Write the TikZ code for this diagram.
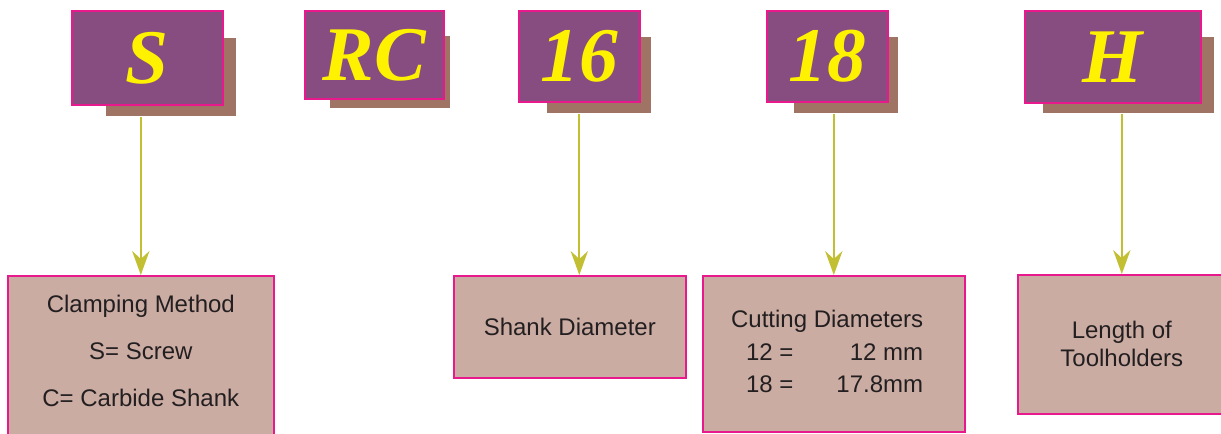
\documentclass[tikz,border=0pt]{standalone}
\usepackage{fontspec}
\setmainfont{Liberation Sans}
\newfontfamily\codefont{Liberation Serif}
\usetikzlibrary{arrows.meta,positioning}

\definecolor{plum}{HTML}{874C80}
\definecolor{edgepink}{HTML}{E8198C}
\definecolor{backbrown}{HTML}{A07464}
\definecolor{codeyellow}{HTML}{FFF200}
\definecolor{infotan}{HTML}{CBACA3}
\definecolor{textdark}{HTML}{231F20}
\definecolor{linkolive}{HTML}{C2BF32}

\begin{document}
\begin{tikzpicture}[
  x=0.75pt, y=-0.75pt,
  codebox/.style={draw=edgepink, line width=1.2pt, fill=plum, text=codeyellow, inner sep=0pt, anchor=north west,
    font=\codefont\bfseries\itshape\fontsize{58}{60}\selectfont},
  backbox/.style={fill=backbrown, inner sep=0pt, anchor=north west},
  infobox/.style={draw=edgepink, line width=1.2pt, fill=infotan, text=textdark, inner sep=0pt, anchor=north west,
    align=center, font=\fontsize{18}{21}\selectfont},
  link/.style={draw=linkolive, line width=1.3pt, -{Stealth[length=18pt,width=13pt,inset=6pt]}},
]
\useasboundingbox (0,0) rectangle (1221,433);

% shadows behind the code letters
\node[backbox, minimum width=97.5pt, minimum height=58.5pt] (bS) at (106,38) {};
\node[backbox, minimum width=90pt, minimum height=54pt] (bRC) at (330,36) {};
\node[backbox, minimum width=78pt, minimum height=57pt] (b16) at (547,37) {};
\node[backbox, minimum width=78pt, minimum height=57pt] (b18) at (794,37) {};
\node[backbox, minimum width=128.25pt, minimum height=57pt] (bH) at (1043,37) {};

% code letters
\node[codebox, minimum width=113.25pt, minimum height=70.5pt] (kS) at (71,10) {S};
\node[codebox, minimum width=104.25pt, minimum height=66pt] (kRC) at (304,10) {RC};
\node[codebox, minimum width=90.75pt, minimum height=68.25pt] (k16) at (518,10) {16};
\node[codebox, minimum width=90.75pt, minimum height=68.25pt] (k18) at (766,10) {18};
\node[codebox, minimum width=132pt, minimum height=69pt] (kH) at (1024,10) {H};

% meaning of each part
\node[infobox, minimum width=199.5pt, inner ysep=14.25pt, text depth=10.5pt,
  font=\fontsize{18}{35.25}\selectfont] (iS) at (7,275)
  {Clamping Method\\S= Screw\\C= Carbide Shank};
\node[infobox, minimum width=174pt, minimum height=76.5pt] (i16) at (453,275) {Shank Diameter};
\node[infobox, minimum width=196.5pt, minimum height=117pt, font=\fontsize{18}{24.4}\selectfont] (i18) at (702,275)
  {\begin{tabular}{@{\hspace{11.25pt}}l@{\hspace{23pt}}r@{}}
    \multicolumn{2}{@{}l@{}}{Cutting Diameters}\\
    12 = & 12 mm\\
    18 = & 17.8mm
  \end{tabular}\hspace*{10pt}};
\node[infobox, minimum width=156pt, minimum height=104.25pt] (iH) at (1017,274) {Length of\\Toolholders};

% arrows
\draw[link] (bS.south -| iS.north) -- (iS.north);
\draw[link] (b16.south -| k16.south) -- (k16.south |- i16.north);
\draw[link] (b18.south -| i18.north) -- (i18.north);
\draw[link] (bH.south -| iH.north) -- (iH.north);

\end{tikzpicture}
\end{document}
